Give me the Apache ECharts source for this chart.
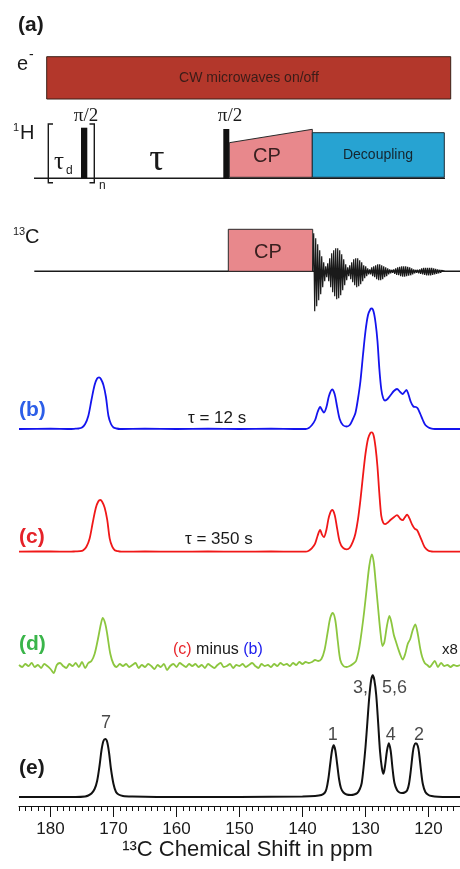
<!DOCTYPE html>
<html><head><meta charset="utf-8">
<script src="https://cdn.jsdelivr.net/npm/echarts@6/dist/echarts.min.js"></script>
<style>html,body{margin:0;padding:0;background:#fff}#c{width:460px;height:869px}</style>
</head><body><div id="c"></div>
<script>
// ---- axis ----
const xMin = 115, xMax = 185;
const majorTicks = [120, 130, 140, 150, 160, 170, 180];

// ---- spectra: [ppm, intensity] (intensity in arbitrary units) ----
const specB = [[185,0],[180,0.3],[177,0],[176,0.3],[175.5,0.5],[175,1.5],[174.5,5],[174,13],[173.5,29],[173,44],[172.6,50.5],[172.3,51.7],[172,50],[171.6,44],[171.2,32],[170.8,13],[170.4,5],[170,1.5],[169.5,0.5],[169,0],[165,0.3],[160,0],[155,0.3],[150,0],[145,0.3],[141,0],[139.5,0],[139,1],[138.5,4],[138,9],[137.6,17],[137.2,22],[136.9,19],[136.6,16.5],[136.2,22],[135.8,33],[135.3,39.5],[134.9,35],[134.5,22],[134.1,10],[133.6,4],[133,2.5],[132.5,4],[132,10],[131.6,16],[131.2,30],[130.8,48],[130.4,74],[130,98],[129.6,114],[129.2,120],[129,120.5],[128.7,117],[128.4,106],[128.1,88],[127.8,60],[127.5,40],[127.2,31],[126.9,28.5],[126.5,30],[126,34],[125.5,38],[125,40],[124.5,37],[124.1,35],[123.8,37],[123.5,39],[123.2,35],[122.8,27],[122.4,22.5],[122,22],[121.7,20.5],[121.3,15],[120.9,9],[120.5,4],[120,1.5],[119.5,0.3],[119,0],[117,0],[115,0]];

const specC = [[185,0],[180,0.3],[177,0],[176,0.3],[175.3,0.5],[174.8,1.5],[174.3,5],[173.8,13],[173.3,29],[172.8,44],[172.4,50.5],[172.1,51.7],[171.8,50],[171.4,44],[171,32],[170.6,13],[170.2,5],[169.8,1.5],[169.3,0.5],[168.8,0],[165,0.3],[160,0],[155,0.3],[150,0],[145,0.3],[141,0],[139.5,0],[139,1],[138.5,3.5],[138,8],[137.6,16],[137.2,21.7],[136.9,17],[136.6,14.5],[136.2,22],[135.8,35],[135.3,41.7],[134.9,37],[134.5,23],[134.1,10],[133.6,4],[133,2.3],[132.5,4],[132,10],[131.6,18],[131.2,32],[130.8,52],[130.4,76],[130,98],[129.6,113],[129.2,119],[129,119.3],[128.7,116],[128.4,104],[128.1,85],[127.8,58],[127.5,36],[127.2,29],[126.9,27.5],[126.5,29],[126,32],[125.5,34.5],[125,36.5],[124.5,33],[124.1,31.5],[123.8,34],[123.4,37],[123,33],[122.6,27],[122.2,23],[121.8,21.5],[121.4,16],[121,10],[120.6,4.5],[120,1],[119.5,0.2],[119,0],[117,0],[115,0]];

const specD = [[185,1],[184.5,-1],[184,2],[183.5,0],[183,3],[182.5,-1],[182,1],[181.5,-2],[181,2],[180.5,0],[180,-3],[179.5,-7],[179,1],[178.5,3],[178,0],[177.5,-2],[177,2],[176.5,0],[176,3],[175.5,-1],[175,4],[174.5,-2],[174,3],[173.5,5],[173,12],[172.5,26],[172,42],[171.7,48],[171.3,42],[171,32],[170.5,12],[170,2],[169.5,-1],[169,2],[168.5,0],[168,2],[167.5,-1],[167,1],[166.5,3],[166,-2],[165.5,1],[165,-1],[164.5,2],[164,0],[163.5,-3],[163,1],[162.5,-1],[162,2],[161.5,-4],[161,0],[160.5,2],[160,-1],[159.5,3],[159,1],[158.5,-1],[158,2],[157.5,0],[157,2],[156.5,-1],[156,1],[155.5,-2],[155,2],[154.5,0],[154,-2],[153.5,1],[153,3],[152.5,-1],[152,0],[151.5,2],[151,-2],[150.5,1],[150,0],[149.5,2],[149,-1],[148.5,1],[148,3],[147.5,0],[147,-2],[146.5,2],[146,0],[145.5,1],[145,-1],[144.5,2],[144,0],[143.5,3],[143,1],[142.5,2],[142,0],[141.5,3],[141,1],[140.5,4],[140,2],[139.5,4],[139,3],[138.5,4],[138,6],[137.5,5],[137,7],[136.5,16],[136,34],[135.6,48],[135.2,53],[134.8,46],[134.4,25],[134,6],[133.5,0],[133,-1],[132.5,0],[132,2],[131.5,5],[131,18],[130.6,35],[130.2,55],[129.8,78],[129.4,100],[129,111.7],[128.7,104],[128.4,85],[128,58],[127.6,32],[127.3,20],[127,24],[126.6,40],[126.2,50],[125.9,44],[125.5,31],[125.2,25],[124.8,17],[124.4,10],[124.1,6.5],[123.7,12],[123.3,22],[122.9,27],[122.5,36],[122.1,41.7],[121.7,32],[121.3,17],[121,9],[120.6,3],[120.2,1],[119.8,-1],[119.5,1],[119,5],[118.5,-1],[118,3],[117.5,0],[117,1],[116.5,-1],[116,1],[115.5,0],[115,1]];

const specE = [[185,0],[180,0],[176,0],[174.5,0.5],[174,1.5],[173.5,3.5],[173,8],[172.6,16],[172.2,32],[171.9,47],[171.6,56],[171.3,58],[171,55],[170.7,44],[170.4,28],[170,13],[169.6,5],[169.2,2.5],[168.5,1],[167,0.5],[160,0],[150,0],[140,0.5],[138,1],[137,2],[136.5,4],[136.2,8],[135.9,18],[135.6,33],[135.3,47],[135.05,51.7],[134.8,47],[134.5,33],[134.2,18],[133.9,9],[133.5,4.5],[133,2.5],[132.3,2],[131.8,2.5],[131.3,4],[130.9,8],[130.6,14],[130.3,30],[130,50],[129.7,75],[129.4,100],[129.1,117],[128.85,121.7],[128.6,117],[128.3,102],[128,75],[127.7,46],[127.4,29],[127.15,23.3],[126.9,31],[126.6,46],[126.3,53.7],[126,46],[125.7,28],[125.4,14],[125,7],[124.6,4.5],[124.2,4],[123.8,4.5],[123.4,6.5],[123.1,13],[122.8,27],[122.5,44],[122.3,51],[122,53.7],[121.7,51],[121.5,44],[121.2,27],[120.9,13],[120.5,5],[120,2],[119.5,1],[118.5,0.3],[117,0],[115,0]];

// ---- peak assignments on (e) ----
const peakLabelPpm = [171.2, 135.2, 130.8, 125.4, 126.0, 121.5];
const peakLabelHeight = [73.5, 62, 108.5, 108.5, 62, 62];
const peakLabelText = ['7', '1', '3,', '5,6', '4', '2'];

// ---- FID sketch in the pulse sequence (amplitude per sample) ----
const fidSignal = [0,38,-40,33,-35,27,-29,21,-23,15,-16,9,-10,5,-6,8,-10,13,-16,18,-21,21,-25,23,-28,23,-27,21,-24,17,-19,12,-14,7,-9,4,-5,6,-8,9,-11,12,-14,13,-16,13,-15,11,-13,9,-10,6,-7,5,-5,3,-3,2,-3,4,-5,5,-6,6,-8,7,-9,7,-9,6,-8,5,-6,4,-5,3,-3,2,-2,1.5,-1.5,2,-2.5,3,-3.5,4,-4,4.5,-5,5,-5.5,5,-5.5,5,-5,4.5,-4.5,4,-4,3,-3,2,-2,1.5,-1.5,1.5,-2,2,-2.5,3,-3,3.5,-3.5,3.5,-4,3.5,-4,3.5,-4,3.5,-3.5,3,-3,2.5,-2.5,2,-2,1.5,-1.5,1,-1,0.5,0];

const FONT = 'Liberation Sans, Arial, sans-serif';
const SERIF = 'Liberation Serif, Times New Roman, serif';

function T(x, y, text, size, extra) {
  return {type:'text', x:x, y:y, silent:true, z:10,
    style:Object.assign({text:text, fontSize:size, fontFamily:FONT, fill:'#1a1a1a', align:'left', verticalAlign:'middle'}, extra||{})};
}
const INK = '#1a1a1a';
const graphics = [
  T(18, 25, '(a)', 21, {fontWeight:'bold'}),
  T(17, 64, 'e', 20),
  T(29, 55, '-', 14),
  {type:'rect', shape:{x:46.7, y:56.7, width:404, height:42.3}, style:{fill:'#b3372b', stroke:'#3a2018', lineWidth:1}},
  T(249, 78, 'CW microwaves on/off', 14, {align:'center', fill:'#3a1c18'}),
  T(13, 128, '1', 11),
  T(20, 133, 'H', 20),
  {type:'line', shape:{x1:34, y1:178.3, x2:445, y2:178.3}, style:{stroke:INK, lineWidth:1.4}},
  {type:'polyline', shape:{points:[[53,124],[48.3,124],[48.3,182.7],[53,182.7]]}, style:{stroke:INK, fill:null, lineWidth:1.4}},
  T(54, 162, 'τ', 25, {fontFamily:SERIF}),
  T(66, 171, 'd', 12),
  {type:'rect', shape:{x:81, y:127.7, width:6.3, height:50.6}, style:{fill:'#111'}},
  T(86, 116.5, 'π/2', 19, {align:'center', fontFamily:SERIF}),
  {type:'polyline', shape:{points:[[89.5,124],[94.3,124],[94.3,182.7],[89.5,182.7]]}, style:{stroke:INK, fill:null, lineWidth:1.4}},
  T(99, 186, 'n', 12),
  T(157, 160, 'τ', 38, {align:'center', fontFamily:SERIF}),
  {type:'rect', shape:{x:223.3, y:129, width:6, height:50}, style:{fill:'#111'}},
  T(230, 116.5, 'π/2', 19, {align:'center', fontFamily:SERIF}),
  {type:'polygon', shape:{points:[[229.3,142.7],[312.3,129.3],[312.3,177.3],[229.3,177.3]]}, style:{fill:'#e8888c', stroke:'#2a2a2a', lineWidth:1}},
  T(267, 156, 'CP', 20, {align:'center', fill:'#3a2020'}),
  {type:'rect', shape:{x:312.3, y:132.7, width:132, height:44.6}, style:{fill:'#27a3d2', stroke:'#1c2c36', lineWidth:1}},
  T(378, 155, 'Decoupling', 14, {align:'center', fill:'#15252e'}),
  T(13, 232, '13', 11),
  T(25, 237, 'C', 20),
  {type:'line', shape:{x1:34.3, y1:271.3, x2:460, y2:271.3}, style:{stroke:INK, lineWidth:1.4}},
  {type:'rect', shape:{x:228.3, y:229.3, width:84.4, height:42}, style:{fill:'#e8888c', stroke:'#2a2a2a', lineWidth:1}},
  T(268, 252, 'CP', 20, {align:'center', fill:'#3a2020'}),
  // spectrum labels
  T(19, 410, '(b)', 21, {fontWeight:'bold', fill:'#2c5ee8'}),
  T(188, 418, 'τ = 12 s', 17),
  T(19, 537, '(c)', 21, {fontWeight:'bold', fill:'#e52229'}),
  T(185, 539, 'τ = 350 s', 17),
  T(19, 644, '(d)', 21, {fontWeight:'bold', fill:'#3ab54a'}),
  {type:'text', x:173, y:650, silent:true, z:10, style:{text:'{r|(c)} minus {b|(b)}', fontSize:16, fontFamily:FONT, fill:INK, verticalAlign:'middle',
    rich:{r:{fill:'#e8262c', fontSize:16, fontFamily:FONT}, b:{fill:'#2020ee', fontSize:16, fontFamily:FONT}}}},
  T(442, 650, 'x8', 15),
  T(19, 768, '(e)', 21, {fontWeight:'bold', fill:'#1a1a1a'})
];

const hiddenX = (g) => ({gridIndex:g, type:'value', min:xMin, max:xMax, inverse:true, show:false});
const lineSeries = (idx, data, color, w) => ({type:'line', xAxisIndex:idx, yAxisIndex:idx, data:data, showSymbol:false, symbol:'none',
  smooth:0.3, lineStyle:{color:color, width:w}, silent:true, animation:false, clip:false});

const option = {
  animation:false,
  backgroundColor:'#ffffff',
  grid:[
    {left:19, right:0, top:299, height:130, outerBoundsMode:'none', containLabel:false},
    {left:19, right:0, top:421.7, height:130, outerBoundsMode:'none', containLabel:false},
    {left:19, right:0, top:546, height:130, outerBoundsMode:'none', containLabel:false},
    {left:19, right:0, top:676, height:130, outerBoundsMode:'none', containLabel:false},
    {left:19, right:0, top:676, height:130, outerBoundsMode:'none', containLabel:false},
    {left:312.7, width:132, top:226.3, height:90, outerBoundsMode:'none', containLabel:false}
  ],
  xAxis:[
    hiddenX(0), hiddenX(1), hiddenX(2),
    {gridIndex:3, type:'value', min:xMin, max:xMax, inverse:true,
      axisLine:{show:true, onZero:false, lineStyle:{color:'#111', width:1}},
      axisTick:{show:true, customValues:majorTicks, length:11, lineStyle:{color:'#111', width:1}},
      axisLabel:{show:true, customValues:majorTicks, fontSize:17, color:'#1a1a1a', margin:15, fontFamily:FONT},
      splitLine:{show:false},
      name:'¹³C Chemical Shift in ppm', nameLocation:'middle', nameGap:33,
      nameTextStyle:{fontSize:22, color:'#1a1a1a', fontFamily:FONT, padding:[0,0,0,16]}},
    {gridIndex:4, type:'value', min:xMin, max:xMax, interval:1, inverse:true,
      axisLine:{show:false, onZero:false}, axisTick:{show:true, length:5, lineStyle:{color:'#111', width:1}},
      axisLabel:{show:false}, splitLine:{show:false}},
    {gridIndex:5, type:'category', boundaryGap:false, data:fidSignal.map((v,i)=>i), show:false}
  ],
  yAxis:[
    {gridIndex:0, type:'value', min:0, max:130, show:false},
    {gridIndex:1, type:'value', min:0, max:130, show:false},
    {gridIndex:2, type:'value', min:-10, max:120, show:false},
    {gridIndex:3, type:'value', min:-9, max:121, show:false},
    {gridIndex:4, type:'value', min:0, max:1, show:false},
    {gridIndex:5, type:'value', min:-45, max:45, show:false}
  ],
  series:[
    lineSeries(0, specB, '#1414ee', 1.8),
    lineSeries(1, specC, '#f01818', 1.8),
    lineSeries(2, specD, '#8cc63f', 1.8),
    lineSeries(3, specE, '#111111', 2),
    {type:'line', xAxisIndex:5, yAxisIndex:5, data:fidSignal, showSymbol:false, symbol:'none', smooth:false,
      lineStyle:{color:'#1a1a1a', width:1.2}, silent:true, animation:false},
    {type:'scatter', xAxisIndex:3, yAxisIndex:3, symbolSize:0, silent:true,
      data:peakLabelPpm.map((p,i)=>({value:[p, peakLabelHeight[i]], label:{formatter:peakLabelText[i]}})),
      label:{show:true, position:'inside', fontSize:18, color:'#1a1a1a', fontFamily:FONT}}
  ],
  graphic:graphics
};
const chart = echarts.init(document.getElementById('c'), null, {renderer:'canvas'});
chart.setOption(option);
</script></body></html>
